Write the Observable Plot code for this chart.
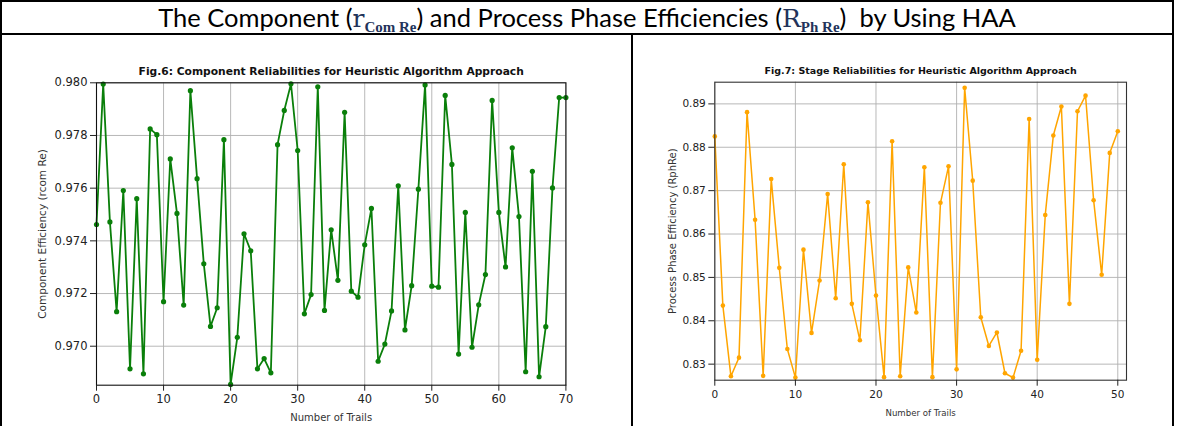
<!DOCTYPE html>
<html><head><meta charset="utf-8">
<script src="https://cdn.jsdelivr.net/npm/d3@7"></script>
<script src="https://cdn.jsdelivr.net/npm/@observablehq/plot@0.6"></script>
<style>
body{margin:0;background:#fff;width:1177px;height:426px;overflow:hidden;position:relative;font-family:"DejaVu Sans",sans-serif}
#title{position:absolute;left:0;top:1px;width:1174px;height:33px;text-align:center;font-family:Lato,sans-serif;font-size:25.5px;line-height:33px;color:#000;white-space:nowrap}
#title .m{font-family:"DejaVu Serif","Liberation Serif",serif;color:#22335a;font-size:25px}
#title sub{font-family:"Liberation Serif",serif;font-weight:bold;font-size:15px;vertical-align:-5px}
.line{position:absolute;background:#000}
#left{position:absolute;left:0;top:36px}
#right{position:absolute;left:632px;top:36px}
svg text{font-family:"DejaVu Sans"}
</style></head>
<body>
<div id="title">The Component (<span class="m">r<sub>Com Re</sub></span>) and Process Phase Efficiencies (<span class="m">R<sub>Ph Re</sub></span>)&nbsp; by Using HAA</div>
<div class="line" style="left:0;top:0;width:1174px;height:2px"></div>
<div class="line" style="left:0;top:33px;width:1174px;height:2px"></div>
<div class="line" style="left:0;top:0;width:2px;height:426px"></div>
<div class="line" style="left:1172px;top:0;width:2px;height:426px"></div>
<div class="line" style="left:631px;top:34px;width:2px;height:392px"></div>
<div id="left"></div>
<div id="right"></div>
<script>
// Fig.6 data: component efficiency per trail (index = trail number)
const compEff = [0.97462,0.97995,0.97472,0.97131,0.97591,0.96914,0.97560,0.96895,0.97825,0.97803,
  0.97169,0.97711,0.97504,0.97156,0.97970,0.97636,0.97313,0.97075,0.97146,0.97784,
  0.96855,0.97034,0.97427,0.97362,0.96914,0.96953,0.96899,0.97765,0.97895,0.97996,
  0.97743,0.97123,0.97196,0.97985,0.97136,0.97442,0.97250,0.97888,0.97209,0.97186,
  0.97385,0.97523,0.96943,0.97008,0.97134,0.97609,0.97062,0.97230,0.97596,0.97992,
  0.97228,0.97224,0.97952,0.97690,0.96970,0.97508,0.96996,0.97157,0.97272,0.97933,
  0.97508,0.97301,0.97753,0.97492,0.96903,0.97664,0.96884,0.97074,0.97601,0.97944,0.97944];
// Fig.7 data: process phase efficiency per trail
const phaseEff = [0.8825,0.8435,0.8272,0.8315,0.8881,0.8633,0.8273,0.8727,0.8522,0.8335,
  0.8269,0.8564,0.8372,0.8493,0.8692,0.8452,0.8761,0.8439,0.8355,0.8673,
  0.8458,0.8270,0.8814,0.8272,0.8523,0.8419,0.8754,0.8270,0.8672,0.8756,
  0.8288,0.8937,0.8723,0.8408,0.8342,0.8373,0.8279,0.8269,0.8331,0.8865,
  0.8310,0.8644,0.8827,0.8894,0.8439,0.8883,0.8919,0.8678,0.8506,0.8787,0.8837];

const xTicksL = [0,10,20,30,40,50,60,70];
const yTicksL = [0.970,0.972,0.974,0.976,0.978,0.980];
const xTicksR = [0,10,20,30,40,50];
const yTicksR = [0.83,0.84,0.85,0.86,0.87,0.88,0.89];

const titleL = "Fig.6: Component Reliabilities for Heuristic Algorithm Approach";
const titleR = "Fig.7: Stage Reliabilities for Heuristic Algorithm Approach";
const yLabelL = "Component Efficiency (rcom Re)";
const yLabelR = "Process Phase Efficiency (RphRe)";
const xLabel = "Number of Trails";

const F = "DejaVu Sans";
const gridStyle = {stroke:"#b0b0b0", strokeOpacity:1, strokeWidth:0.9};
const idx = (d, i) => i;
const val = d => d;

const left = Plot.plot({
  width: 632, height: 390,
  marginLeft: 96, marginRight: 66.6, marginTop: 46.3, marginBottom: 41.3,
  style: {fontFamily: F, fontSize: "11px", color: "#222", background: "transparent"},
  x: {domain: [0, 70]},
  y: {domain: [0.96852, 0.980]},
  marks: [
    Plot.gridX(xTicksL, gridStyle),
    Plot.gridY(yTicksL, gridStyle),
    Plot.line(compEff, {x: idx, y: val, stroke: "#0a7f0a", strokeWidth: 1.8}),
    Plot.dot(compEff, {x: idx, y: val, fill: "#0a7f0a", r: 2.6}),
    Plot.frame({stroke: "#111", strokeWidth: 1.1}),
    Plot.axisX(xTicksL, {label: null, tickSize: 6, tickPadding: 4, fontSize: 11.5, fontFamily: F}),
    Plot.axisY(yTicksL, {label: null, tickSize: 6, tickPadding: 3, fontSize: 11.5, fontFamily: F, tickFormat: d3.format(".3f")}),
    Plot.text([titleL], {frameAnchor: "top", dy: -15, fontWeight: "bold", fontSize: 10.7, fontFamily: F, fill: "#111"}),
    Plot.text([xLabel], {frameAnchor: "bottom", dy: 36, fontSize: 10, fontFamily: F, fill: "#333"}),
    Plot.text([yLabelL], {frameAnchor: "left", dx: -54, rotate: -90, textAnchor: "middle", lineAnchor: "middle", fontSize: 10.5, fontFamily: F, fill: "#333"})
  ]
});
document.getElementById("left").append(left);

const right = Plot.plot({
  width: 540, height: 390,
  marginLeft: 82.3, marginRight: 46, marginTop: 45.7, marginBottom: 46.3,
  style: {fontFamily: F, fontSize: "10px", color: "#222", background: "transparent"},
  x: {domain: [0, 51.08]},
  y: {domain: [0.8263, 0.895]},
  marks: [
    Plot.gridX(xTicksR, gridStyle),
    Plot.gridY(yTicksR, gridStyle),
    Plot.line(phaseEff, {x: idx, y: val, stroke: "#ffa500", strokeWidth: 1.5}),
    Plot.dot(phaseEff, {x: idx, y: val, fill: "#ffa500", r: 2.3}),
    Plot.frame({stroke: "#333", strokeWidth: 1.1}),
    Plot.axisX(xTicksR, {label: null, tickSize: 6, tickPadding: 4, fontSize: 10.5, fontFamily: F}),
    Plot.axisY(yTicksR, {label: null, tickSize: 6, tickPadding: 3, fontSize: 10.5, fontFamily: F, tickFormat: d3.format(".2f")}),
    Plot.text([titleR], {frameAnchor: "top", dy: -15, fontWeight: "bold", fontSize: 9.5, fontFamily: F, fill: "#111"}),
    Plot.text([xLabel], {frameAnchor: "bottom", dy: 36, fontSize: 8.6, fontFamily: F, fill: "#333"}),
    Plot.text([yLabelR], {frameAnchor: "left", dx: -42, rotate: -90, textAnchor: "middle", lineAnchor: "middle", fontSize: 10, fontFamily: F, fill: "#333"})
  ]
});
document.getElementById("right").append(right);
</script>
</body></html>
